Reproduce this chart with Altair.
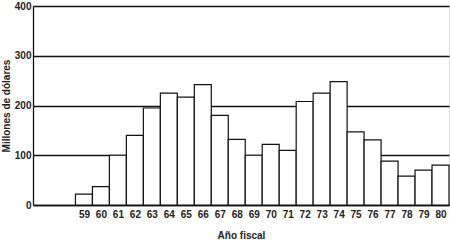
import altair as alt
import pandas as pd

years = list(range(59, 81))
values = [22, 37, 100, 140, 195, 225, 217, 242, 180, 132, 100,
          122, 110, 208, 225, 248, 147, 131, 88, 58, 70, 80]
y_ticks = [0, 100, 200, 300, 400]

df = pd.DataFrame({"year": years, "value": values})
df["x0"] = df["year"] - 0.5
df["x1"] = df["year"] + 0.5

FONT = "Liberation Sans"

chart = alt.Chart(df).mark_rect(
    fill="white", stroke="#111", strokeWidth=1.2
).encode(
    x=alt.X("x0:Q",
            scale=alt.Scale(domain=[56, 80.5], nice=False, zero=False),
            axis=alt.Axis(values=years, format="d", title="Año fiscal",
                          grid=False, ticks=False, labelPadding=4,
                          labelFont=FONT, labelFontSize=10, labelFontWeight="bold",
                          labelColor="#222", titleFont=FONT, titleFontSize=10,
                          titleFontWeight="bold", titleColor="#222", titlePadding=11,
                          domainColor="#111", domainWidth=1.3)),
    x2="x1:Q",
    y=alt.Y("value:Q",
            scale=alt.Scale(domain=[0, 400], nice=False),
            axis=alt.Axis(values=y_ticks, title="Millones de dólares",
                          grid=True, gridColor="#111", gridWidth=1.3, gridOpacity=1,
                          ticks=False, labelPadding=2,
                          labelFont=FONT, labelFontSize=10, labelFontWeight="bold",
                          labelColor="#222", titleFont=FONT, titleFontSize=10,
                          titleFontWeight="bold", titleColor="#222", titlePadding=3,
                          domainColor="#111", domainWidth=1.3)),
    y2=alt.datum(0),
).properties(
    width=416, height=199,
    autosize=alt.AutoSizeParams(type="none"),
    padding={"left": 33, "top": 6, "right": 1, "bottom": 37},
).configure_view(stroke=None).configure(background="white")

chart.save("out.html", embed_options={"renderer": "svg", "actions": False})
